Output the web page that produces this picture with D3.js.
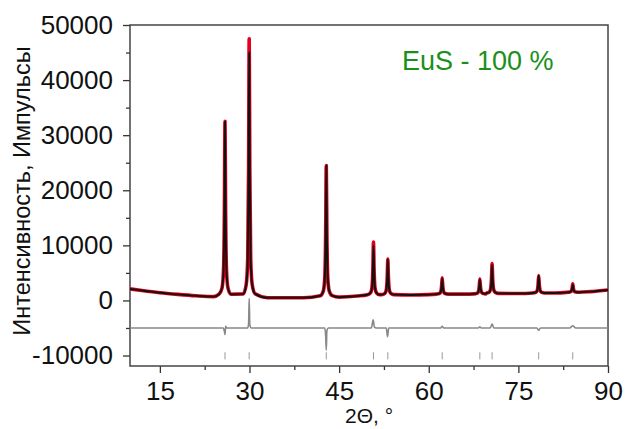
<!DOCTYPE html>
<html>
<head>
<meta charset="utf-8">
<script src="https://cdn.jsdelivr.net/npm/d3@7"></script>
<style>
  body { margin: 0; background: #fff; }
  text { font-family: "Liberation Sans", Arial, sans-serif; }
</style>
</head>
<body>
<div id="chart"></div>
<script>
// values: [2theta, intensity]
var observed = [
  [10,2100],[12,1800],[15,1400],[18,1100],[21,850],[24,700],
  [24.9,1130],[25.4,2240],[25.65,5430],[25.8,16550],[25.9,32500],[26.0,16550],[26.15,5430],[26.4,2240],[26.9,1130],
  [28.95,1200],[29.45,2900],[29.7,7600],[29.85,24000],[29.95,47500],[30.05,24000],[30.2,7600],[30.45,2900],[30.95,1200],
  [33,500],[36,480],[39,480],
  [41.85,860],[42.35,1700],[42.6,4100],[42.75,12500],[42.85,24500],[42.95,12500],[43.1,4100],[43.35,1700],[43.85,860],
  [45,600],[48,800],
  [49.75,1050],[50.25,1390],[50.5,2360],[50.65,5750],[50.75,10600],[50.85,5750],[51.0,2360],[51.25,1390],[51.75,1050],
  [52.15,1050],[52.65,1280],[52.9,1930],[53.05,4230],[53.15,7500],[53.25,4230],[53.4,1930],[53.65,1280],[54.15,1050],
  [57,1000],[60,1050],
  [61.25,1150],[61.75,1250],[62.0,1550],[62.15,2600],[62.25,4100],[62.35,2600],[62.5,1550],[62.75,1250],[63.25,1150],
  [66,1150],
  [67.55,1190],[68.05,1290],[68.3,1560],[68.45,2530],[68.55,3900],[68.65,2530],[68.8,1560],[69.05,1290],[69.55,1200],
  [69.6,1280],[70.1,1480],[70.35,2030],[70.5,3950],[70.6,6700],[70.7,3950],[70.85,2030],[71.1,1480],[71.6,1280],
  [75,1250],
  [77.4,1350],[77.9,1460],[78.15,1780],[78.3,2900],[78.4,4500],[78.5,2900],[78.65,1780],[78.9,1460],[79.4,1350],
  [81,1350],
  [83.1,1470],[83.6,1530],[83.85,1680],[84.0,2230],[84.1,3000],[84.2,2230],[84.35,1680],[84.6,1530],[85.1,1500],
  [87,1600],[90,1900]
];

var calculated = [
  [10,2100],[12,1800],[15,1400],[18,1100],[21,850],[24,700],
  [24.9,1130],[25.4,2240],[25.65,5430],[25.8,16550],[25.9,32500],[26.0,16550],[26.15,5430],[26.4,2240],[26.9,1130],
  [28.95,1200],[29.45,2800],[29.7,7200],[29.85,22800],[29.95,45000],[30.05,22800],[30.2,7200],[30.45,2800],[30.95,1200],
  [33,500],[36,480],[39,480],
  [41.85,860],[42.35,1700],[42.6,4100],[42.75,12500],[42.85,24500],[42.95,12500],[43.1,4100],[43.35,1700],[43.85,860],
  [45,600],[48,800],
  [49.75,1040],[50.25,1360],[50.5,2270],[50.65,5450],[50.75,10000],[50.85,5450],[51.0,2270],[51.25,1360],[51.75,1040],
  [52.15,1050],[52.65,1280],[52.9,1930],[53.05,4230],[53.15,7500],[53.25,4230],[53.4,1930],[53.65,1280],[54.15,1050],
  [57,1000],[60,1050],
  [61.25,1150],[61.75,1250],[62.0,1550],[62.15,2600],[62.25,4000],[62.35,2600],[62.5,1550],[62.75,1250],[63.25,1150],
  [66,1150],
  [67.55,1190],[68.05,1290],[68.3,1560],[68.45,2530],[68.55,3800],[68.65,2530],[68.8,1560],[69.05,1290],[69.55,1200],
  [69.6,1280],[70.1,1480],[70.35,2030],[70.5,3900],[70.6,6500],[70.7,3900],[70.85,2030],[71.1,1480],[71.6,1280],
  [75,1250],
  [77.4,1350],[77.9,1460],[78.15,1780],[78.3,2900],[78.4,4500],[78.5,2900],[78.65,1780],[78.9,1460],[79.4,1350],
  [81,1350],
  [83.1,1470],[83.6,1530],[83.85,1680],[84.0,2230],[84.1,2900],[84.2,2230],[84.35,1680],[84.6,1530],[85.1,1500],
  [87,1600],[90,1900]
];

// observed - calculated, drawn shifted down by diffOffset
var difference = [
  [10,0],[25.6,0],[25.8,-600],[25.9,-1200],[26.0,300],[26.2,0],
  [29.7,0],[29.85,800],[29.95,5400],[30.05,600],[30.3,0],
  [42.6,0],[42.75,-1500],[42.85,-4000],[42.95,-500],[43.2,0],
  [50.4,0],[50.7,1500],[50.9,200],[51.2,0],
  [52.9,0],[53.1,-1600],[53.3,0],
  [62.0,0],[62.25,300],[62.5,0],
  [68.3,0],[68.55,200],[68.8,0],
  [70.3,0],[70.6,700],[70.9,0],
  [78.1,0],[78.4,-400],[78.7,0],
  [83.6,0],[84.1,400],[84.6,0],[90,0]
];
var diffOffset = -5000;

// Bragg reflection positions
var braggPositions = [25.9, 29.95, 42.85, 50.75, 53.15, 62.25, 68.55, 70.6, 78.4, 84.1];

var xTicks = [15, 30, 45, 60, 75, 90];
var xMinor = [22.5, 37.5, 52.5, 67.5, 82.5];
var yTicks = [-10000, 0, 10000, 20000, 30000, 40000, 50000];
var yMinor = [-5000, 5000, 15000, 25000, 35000, 45000];

var legendText = "EuS - 100 %";

var margin = {top: 25, right: 19, bottom: 63, left: 130},
    width = 627 - margin.left - margin.right,
    height = 429 - margin.top - margin.bottom;

var svg = d3.select("#chart")
  .append("svg")
    .attr("width", 627)
    .attr("height", 429)
  .append("g")
    .attr("transform", "translate(" + margin.left + "," + margin.top + ")");

var x = d3.scaleLinear().domain([10, 90]).range([0, width]);
var y = d3.scaleLinear().domain([-11900, 50000]).range([height, 0]);

svg.append("clipPath").attr("id", "clip")
  .append("rect").attr("width", width).attr("height", height);

// axes
svg.append("g")
  .attr("transform", "translate(0," + height + ")")
  .call(d3.axisBottom(x).tickValues(xTicks).tickSize(7).tickPadding(9).tickFormat(function(d) { return String(d); }));
svg.append("g")
  .attr("transform", "translate(0," + height + ")")
  .call(d3.axisBottom(x).tickValues(xMinor).tickSize(4).tickFormat(""));

svg.append("g")
  .call(d3.axisLeft(y).tickValues(yTicks).tickSize(7).tickPadding(10).tickFormat(function(d) { return String(d); }));
svg.append("g")
  .call(d3.axisLeft(y).tickValues(yMinor).tickSize(4).tickFormat(""));

svg.selectAll(".domain").remove();
svg.selectAll(".tick line").attr("stroke", "#333").attr("stroke-width", 1.3);
svg.selectAll(".tick text")
  .attr("font-size", "26px")
  .attr("fill", "#111");

// frame
svg.append("rect")
  .attr("width", width)
  .attr("height", height)
  .attr("fill", "none")
  .attr("stroke", "#444")
  .attr("stroke-width", 1.5);

var plot = svg.append("g").attr("clip-path", "url(#clip)");

var line = d3.line()
  .x(function(d) { return x(d[0]); })
  .y(function(d) { return y(d[1]); })
  .curve(d3.curveMonotoneX);

var diffLine = d3.line()
  .x(function(d) { return x(d[0]); })
  .y(function(d) { return y(d[1] + diffOffset); })
  .curve(d3.curveMonotoneX);

// Bragg ticks
plot.selectAll(".bragg")
  .data(braggPositions)
  .enter()
  .append("line")
    .attr("x1", function(d) { return x(d); })
    .attr("x2", function(d) { return x(d); })
    .attr("y1", y(-9400))
    .attr("y2", y(-10700))
    .attr("stroke", "#999")
    .attr("stroke-width", 1);

// difference curve
plot.append("path")
  .datum(difference)
  .attr("d", diffLine)
  .attr("fill", "none")
  .attr("stroke", "#888")
  .attr("stroke-width", 1.6);

// observed (red) and calculated (black)
plot.append("path")
  .datum(observed)
  .attr("d", line)
  .attr("fill", "none")
  .attr("stroke", "#e3001b")
  .attr("stroke-width", 3.6)
  .attr("stroke-linejoin", "round");

plot.append("path")
  .datum(calculated)
  .attr("d", line)
  .attr("fill", "none")
  .attr("stroke", "#111")
  .attr("stroke-width", 1.9);

// legend
svg.append("text")
  .attr("x", 402 - margin.left)
  .attr("y", 70 - margin.top)
  .attr("font-size", "27px")
  .attr("fill", "#1a901a")
  .text(legendText);

// axis titles
svg.append("text")
  .attr("x", width / 2)
  .attr("y", 423 - margin.top)
  .attr("text-anchor", "middle")
  .attr("font-size", "21px")
  .attr("fill", "#111")
  .text("2Θ, °");

svg.append("text")
  .attr("transform", "translate(" + (30 - margin.left) + "," + (191 - margin.top) + ") rotate(-90)")
  .attr("text-anchor", "middle")
  .attr("font-size", "23.5px")
  .attr("fill", "#111")
  .text("Интенсивность, Импульсы");
</script>
</body>
</html>
